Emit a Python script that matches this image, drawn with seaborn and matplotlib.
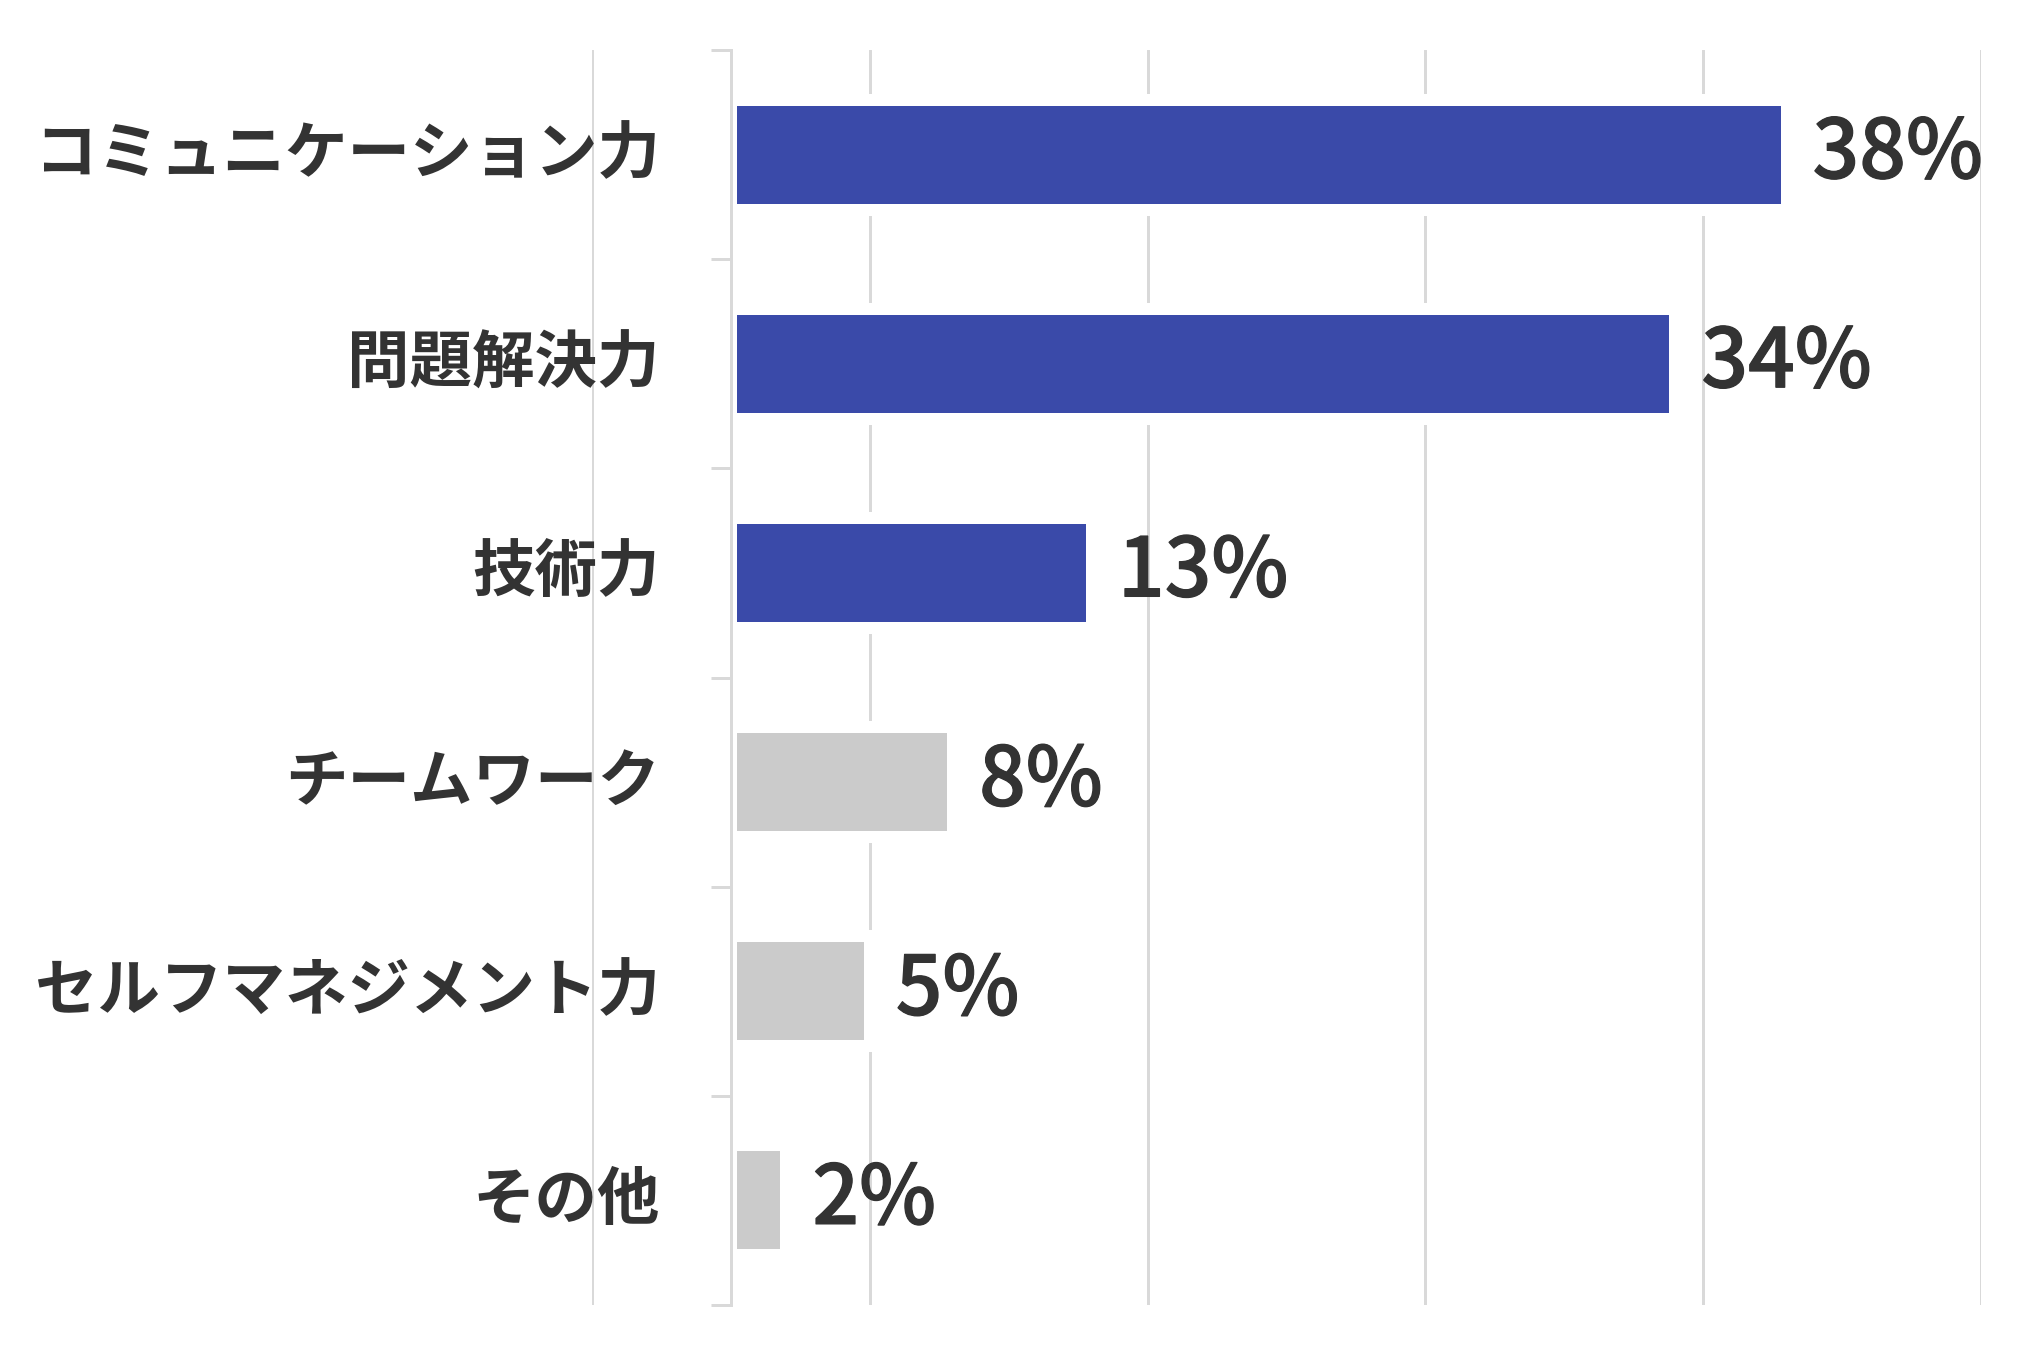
import matplotlib
matplotlib.use("Agg")
import matplotlib.pyplot as plt
import matplotlib.patheffects as pe
import seaborn as sns
import pandas as pd

# Survey: skills considered most important (share of respondents, %)
categories = ["コミュニケーション力", "問題解決力", "技術力", "チームワーク", "セルフマネジメント力", "その他"]
values = [38, 34, 13, 8, 5, 2]
value_labels = ["38%", "34%", "13%", "8%", "5%", "2%"]
bar_colors = ["#3a4aa9", "#3a4aa9", "#3a4aa9", "#cbcbcb", "#cbcbcb", "#cbcbcb"]

grid_ticks = [-5, 5, 15, 25, 35, 45]

sns.set_theme(style="white")
plt.rcParams["font.family"] = ["Noto Sans CJK JP", "DejaVu Sans"]

DPI = 100
fig = plt.figure(figsize=(20.32, 13.55), dpi=DPI)
ax = fig.add_axes([0.2913, 0.0369, 0.6836, 0.9262])

df = pd.DataFrame({"skill": categories, "pct": values})
px = 72.0 / DPI  # points per pixel

sns.barplot(
    data=df, x="pct", y="skill", hue="skill",
    palette=dict(zip(categories, bar_colors)), saturation=1,
    orient="h", width=0.526, legend=False,
    edgecolor="white", linewidth=12 * px, ax=ax, zorder=2,
)

ax.set_xlim(-5, 45)
ax.set_ylim(len(categories) - 0.5, -0.5)
ax.set_xlabel("")
ax.set_ylabel("")

# vertical grid only, no x tick labels
ax.set_xticks(grid_ticks)
ax.set_xticklabels([])
ax.tick_params(axis="x", length=0)
ax.set_axisbelow(True)
ax.grid(axis="x", color="#d9d9d9", linewidth=3 * px)
ax.grid(axis="y", visible=False)

# the category axis sits at x = 0
for side in ["top", "right", "bottom"]:
    ax.spines[side].set_visible(False)
ax.spines["left"].set_position(("data", 0))
ax.spines["left"].set_color("#d9d9d9")
ax.spines["left"].set_linewidth(3 * px)
ax.spines["left"].set_zorder(5)

ax.set_yticks(range(len(categories)))
ax.set_yticklabels(categories)
ax.set_yticks([i - 0.5 for i in range(len(categories) + 1)], minor=True)
ax.tick_params(axis="y", which="major", left=True, length=0, pad=71 * px,
               labelsize=45, labelcolor="#333333")
ax.tick_params(axis="y", which="minor", left=True, length=20 * px, width=3 * px,
               color="#d9d9d9", direction="out")
for lbl in ax.get_yticklabels():
    lbl.set_fontweight("bold")
    lbl.set_verticalalignment("center")

# value labels next to each bar
for container in ax.containers:
    labels = []
    for bar in container:
        idx = int(round(bar.get_y() + bar.get_height() / 2))
        labels.append(value_labels[idx])
    texts = ax.bar_label(container, labels=labels, padding=26 * px,
                         fontsize=59, fontweight=500, color="#333333")
    for t in texts:
        t.set_path_effects([pe.withStroke(linewidth=1.2 * px, foreground="#333333")])

fig.savefig("out.png", dpi=DPI, facecolor="white")
